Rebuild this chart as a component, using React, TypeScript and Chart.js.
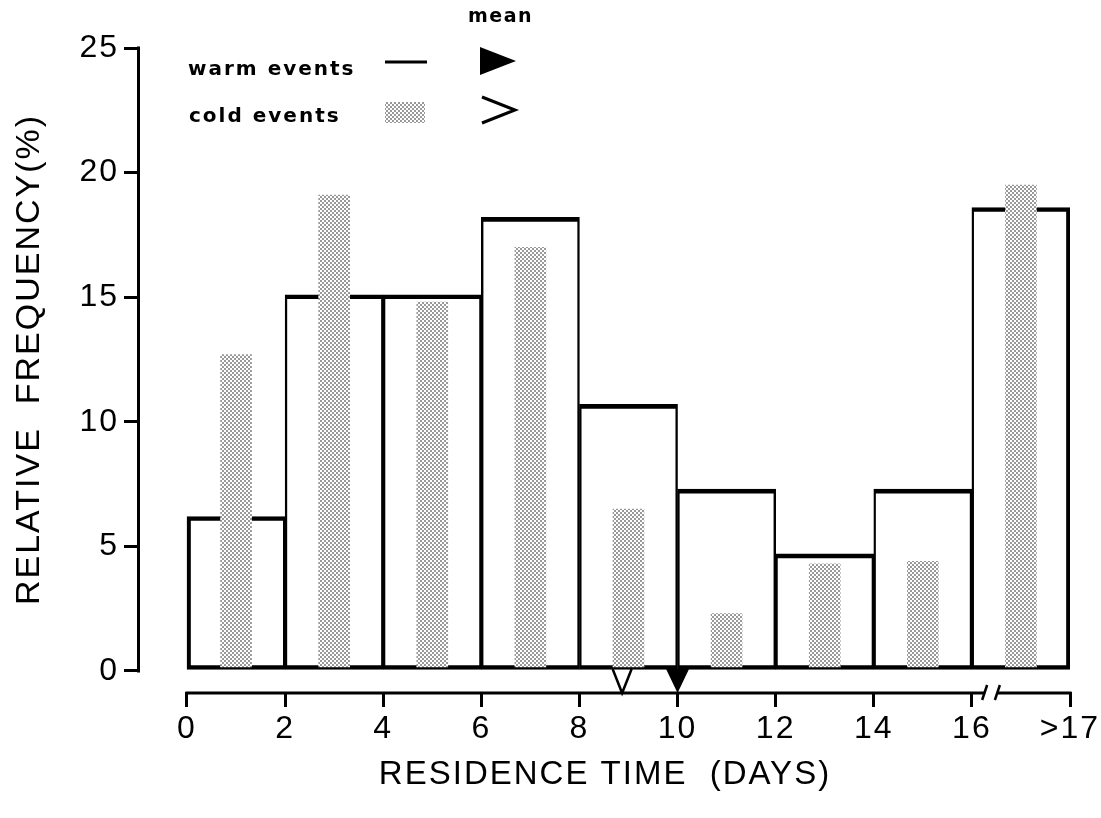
import React, { useEffect, useRef } from 'react';
import { Chart, registerables } from 'chart.js';

Chart.register(...registerables);

// ---- data ----
const binCenters = [1, 3, 5, 7, 9, 11, 13, 15, 17];
const warmFreq = [6.2, 15.1, 15.1, 18.2, 10.7, 7.3, 4.7, 7.3, 18.6];
const coldFreq = [12.7, 19.1, 14.8, 17.0, 6.5, 2.3, 4.3, 4.4, 19.5];
const xTickValues = [0, 2, 4, 6, 8, 10, 12, 14, 16, 18];
const xTickLabels = ['0', '2', '4', '6', '8', '10', '12', '14', '16', '>17'];
const yTickValues = [0, 5, 10, 15, 20, 25];
const meanWarm = 10.0;
const meanCold = 8.87;
const axisBreak = [16.27, 16.53];
const yTitle = 'RELATIVE  FREQUENCY(%)';
const xTitle = 'RESIDENCE TIME  (DAYS)';

const FAMILY = "'Liberation Sans', Arial, Helvetica, sans-serif";
const LEGEND_FAMILY = "'DejaVu Sans', 'Noto Sans', sans-serif";

function makeDots(): CanvasPattern | string {
  const c = document.createElement('canvas');
  c.width = 4;
  c.height = 4;
  const g = c.getContext('2d');
  if (!g) return '#bbbbbb';
  g.fillStyle = '#ffffff';
  g.fillRect(0, 0, 4, 4);
  g.fillStyle = '#000000';
  g.beginPath();
  g.arc(1, 1, 0.75, 0, Math.PI * 2);
  g.fill();
  g.beginPath();
  g.arc(3, 3, 0.75, 0, Math.PI * 2);
  g.fill();
  return g.createPattern(c, 'repeat') || '#bbbbbb';
}

export default function App() {
  const ref = useRef<HTMLCanvasElement | null>(null);

  useEffect(() => {
    document.body.style.margin = '0';
    const canvas = ref.current;
    if (!canvas) return;
    const dots = makeDots();
    const last = binCenters.length - 1;

    const decor = {
      id: 'decor',
      beforeDraw(chart: any) {
        chart.ctx.letterSpacing = '2px';
      },
      afterDraw(chart: any) {
        const { ctx, chartArea } = chart;
        const x = chart.scales.x;
        const y = chart.scales.y;
        ctx.save();
        ctx.letterSpacing = '0px';
        ctx.strokeStyle = '#000';
        ctx.fillStyle = '#000';
        ctx.lineWidth = 3;
        ctx.lineCap = 'butt';

        // y axis line
        const ax = chartArea.left - 1.5;
        ctx.beginPath();
        ctx.moveTo(ax, y.getPixelForValue(25) - 1.5);
        ctx.lineTo(ax, y.getPixelForValue(0) + 1.5);
        ctx.stroke();

        // y axis title
        ctx.save();
        ctx.translate(30, (y.getPixelForValue(25) + y.getPixelForValue(0)) / 2);
        ctx.rotate(-Math.PI / 2);
        ctx.textAlign = 'center';
        ctx.textBaseline = 'middle';
        ctx.font = `34px ${FAMILY}`;
        ctx.letterSpacing = '2px';
        ctx.fillText(yTitle, 0, 0);
        ctx.restore();

        // x axis line with break
        const ay = chartArea.bottom + 1;
        ctx.beginPath();
        ctx.moveTo(x.getPixelForValue(0) - 1.5, ay);
        ctx.lineTo(x.getPixelForValue(axisBreak[0]), ay);
        ctx.moveTo(x.getPixelForValue(axisBreak[1]), ay);
        ctx.lineTo(x.getPixelForValue(18) + 1.5, ay);
        ctx.stroke();
        ctx.lineWidth = 2.5;
        for (const b of axisBreak) {
          const bx = x.getPixelForValue(b);
          ctx.beginPath();
          ctx.moveTo(bx - 3, ay + 7);
          ctx.lineTo(bx + 2, ay - 8);
          ctx.stroke();
        }

        // mean markers on axis
        const tipY = ay;
        const topY = ay - 24;
        const wx = x.getPixelForValue(meanWarm);
        ctx.beginPath();
        ctx.moveTo(wx - 11.5, topY);
        ctx.lineTo(wx + 11.5, topY);
        ctx.lineTo(wx, tipY);
        ctx.closePath();
        ctx.fill();
        const cx = x.getPixelForValue(meanCold);
        ctx.lineWidth = 2.5;
        ctx.beginPath();
        ctx.moveTo(cx - 9.5, topY);
        ctx.lineTo(cx, tipY);
        ctx.lineTo(cx + 9.5, topY);
        ctx.stroke();

        // legend
        ctx.textBaseline = 'alphabetic';
        ctx.textAlign = 'left';
        ctx.font = `bold 19px ${LEGEND_FAMILY}`;
        ctx.letterSpacing = '1.5px';
        ctx.fillText('mean', 468, 22);
        ctx.font = `bold 20px ${LEGEND_FAMILY}`;
        ctx.letterSpacing = '2px';
        ctx.fillText('warm events', 188, 75);
        ctx.fillText('cold events', 189, 122);
        ctx.letterSpacing = '0px';

        ctx.lineWidth = 3;
        ctx.beginPath();
        ctx.moveTo(385, 62);
        ctx.lineTo(427, 62);
        ctx.stroke();

        ctx.beginPath();
        ctx.moveTo(480, 47);
        ctx.lineTo(480, 75);
        ctx.lineTo(516, 61);
        ctx.closePath();
        ctx.fill();

        ctx.fillStyle = dots as any;
        ctx.fillRect(385, 102, 40, 21);

        ctx.beginPath();
        ctx.moveTo(482, 97);
        ctx.lineTo(515, 110);
        ctx.lineTo(482, 123);
        ctx.stroke();

        ctx.restore();
      },
    };

    const chart = new Chart(canvas, {
      type: 'bar',
      data: {
        datasets: [
          {
            label: 'cold events',
            data: binCenters.map((c, i) => ({ x: c, y: coldFreq[i] })),
            backgroundColor: dots as any,
            borderWidth: 0,
            barThickness: 31,
            grouped: false,
            base: 0.16,
            order: 1,
          } as any,
          {
            label: 'warm events',
            data: binCenters.map((c, i) => ({ x: c, y: warmFreq[i] })),
            backgroundColor: 'rgba(255,255,255,0)',
            borderColor: '#000',
            borderWidth: (ctx: any) => {
              const i = ctx.dataIndex;
              return {
                top: 4,
                bottom: 4,
                left: i === 0 ? 3.5 : 1.75,
                right: i === last ? 3.5 : 1.75,
              };
            },
            borderSkipped: false,
            barPercentage: 1,
            categoryPercentage: 1,
            grouped: false,
            order: 2,
          } as any,
        ],
      },
      options: {
        animation: false,
        responsive: false,
        maintainAspectRatio: false,
        devicePixelRatio: 1,
        layout: { padding: { top: 48, right: 31, left: 0, bottom: 0 } },
        plugins: {
          legend: { display: false },
          tooltip: { enabled: false },
        },
        scales: {
          x: {
            type: 'linear',
            min: -0.958,
            max: 18,
            offset: false,
            afterBuildTicks: (s: any) => {
              s.ticks = xTickValues.map((v) => ({ value: v }));
            },
            afterFit: (s: any) => {
              s.height = 126;
            },
            grid: {
              display: true,
              drawOnChartArea: false,
              drawTicks: true,
              tickLength: 15,
              lineWidth: 3,
              color: '#000',
              offset: false,
            },
            border: { display: false },
            ticks: {
              color: '#000',
              font: { family: FAMILY, size: 32 },
              padding: 3,
              maxRotation: 0,
              autoSkip: false,
              callback: (v: any) => {
                const i = xTickValues.indexOf(Number(v));
                return i >= 0 ? xTickLabels[i] : '';
              },
            },
            title: {
              display: true,
              text: xTitle,
              color: '#000',
              font: { family: FAMILY, size: 33 },
              padding: { top: 0, bottom: 23 },
            },
          } as any,
          y: {
            type: 'linear',
            min: -0.843,
            max: 25,
            afterBuildTicks: (s: any) => {
              s.ticks = yTickValues.map((v) => ({ value: v }));
            },
            afterFit: (s: any) => {
              s.width = 140;
            },
            grid: {
              display: true,
              drawOnChartArea: false,
              drawTicks: true,
              tickLength: 16,
              lineWidth: 3,
              color: '#000',
            },
            border: { display: false },
            ticks: {
              color: '#000',
              font: { family: FAMILY, size: 32 },
              padding: 5,
              autoSkip: false,
              callback: (v: any) => String(v),
            },
            title: { display: false },
          } as any,
        },
      },
      plugins: [decor],
    });

    return () => chart.destroy();
  }, []);

  return (
    <div style={{ width: 1101, height: 818, position: 'relative' }}>
      <canvas ref={ref} width={1101} height={818} style={{ display: 'block' }} />
    </div>
  );
}
